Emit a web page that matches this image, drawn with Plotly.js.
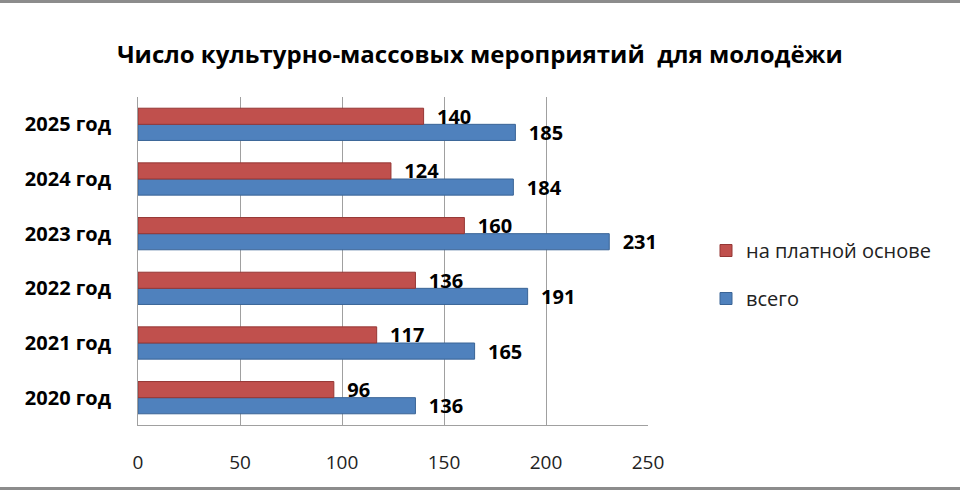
<!DOCTYPE html>
<html>
<head>
<meta charset="utf-8">
<script src="https://cdn.plot.ly/plotly-3.0.1.min.js"></script>
<style>
  html, body { margin: 0; padding: 0; background: #fff; }
  #chart { width: 960px; height: 490px; position: relative; }
  #chart:before, #chart:after { content: ''; position: absolute; left: 0; right: 0; height: 3px; background: #8c8c8c; z-index: 10; }
  #chart:before { top: 0; }
  #chart:after { bottom: 0; }
</style>
</head>
<body>
<div id="chart"></div>
<script>
// Data
const years = ['2020 год', '2021 год', '2022 год', '2023 год', '2024 год', '2025 год'];
const paid = [96, 117, 136, 160, 124, 140];
const total = [136, 165, 191, 231, 184, 185];

const RED = '#C0504D';
const BLUE = '#4F81BD';
const FONT = 'Open Sans, Lato, DejaVu Sans, sans-serif';

const labelFont = { family: FONT, size: 20, color: '#000', weight: 'bold' };

const traces = [
    {
        type: 'bar', orientation: 'h', name: 'всего',
        y: years, x: total, legendrank: 2, legendgroup: 'b',
        marker: { color: BLUE, line: { color: '#3A6496', width: 1 } },
        text: total.map(v => '  ' + v), textposition: 'outside', cliponaxis: false,
        constraintext: 'none', textfont: labelFont, outsidetextfont: labelFont
    },
    {
        type: 'bar', orientation: 'h', name: 'на платной основе',
        y: years, x: paid, legendrank: 1, legendgroup: 'a',
        marker: { color: RED, line: { color: '#953735', width: 1 } },
        text: paid.map(v => '  ' + v), textposition: 'outside', cliponaxis: false,
        constraintext: 'none', textfont: labelFont, outsidetextfont: labelFont
    }
];

const layout = {
    width: 960, height: 490,
    margin: { l: 138, r: 312, t: 97, b: 65 },
    paper_bgcolor: '#fff', plot_bgcolor: '#fff',
    barmode: 'group', bargap: 0.41, bargroupgap: 0,
    font: { family: FONT, color: '#000' },
    title: {
        text: 'Число культурно-массовых мероприятий  для молодёжи',
        font: { family: FONT, size: 24, color: '#000', weight: 'bold' },
        x: 0.5, xanchor: 'center', y: 1 - 55 / 490, yanchor: 'middle'
    },
    xaxis: {
        range: [0, 250], dtick: 50, tick0: 0,
        showgrid: true, gridcolor: '#a0a0a0', gridwidth: 1,
        zeroline: false, showline: true, linecolor: '#a0a0a0',
        ticks: '', ticklabelstandoff: 20,
        tickfont: { family: FONT, size: 19, color: '#222' }
    },
    yaxis: {
        type: 'category', categoryorder: 'array', categoryarray: years,
        showgrid: false, zeroline: false, showline: true, linecolor: '#a0a0a0',
        ticks: '', ticklabelstandoff: 22,
        tickfont: { family: FONT, size: 20, color: '#000', weight: 'bold' }
    },
    showlegend: true,
    legend: {
        xref: 'container', yref: 'container',
        x: 706 / 960, xanchor: 'left',
        y: 1 - 231 / 490, yanchor: 'top',
        traceorder: 'grouped', tracegroupgap: 19,
        font: { family: FONT, size: 20, color: '#222' },
        itemwidth: 30
    }
};

Plotly.newPlot('chart', traces, layout, { displayModeBar: false, staticPlot: true });
</script>
</body>
</html>
